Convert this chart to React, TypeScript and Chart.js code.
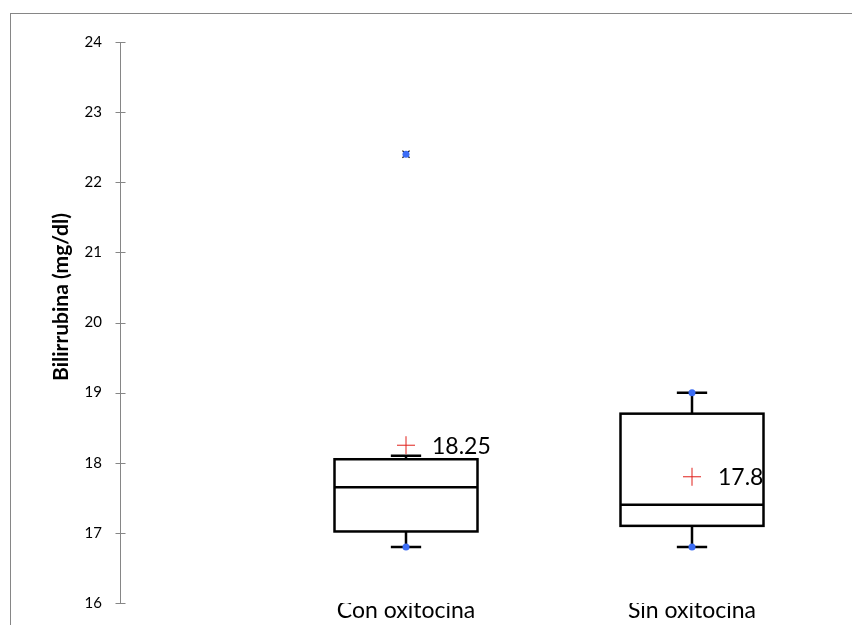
import React, { useEffect, useRef } from "react";
import { Chart, registerables } from "chart.js";

Chart.register(...registerables);

const categories = ["Con oxitocina", "Sin oxitocina"];
const q1 = [17.02, 17.1];
const medians = [17.65, 17.4];
const q3 = [18.05, 18.7];
const whiskerLow = [16.8, 16.8];
const whiskerHigh = [18.1, 19.0];
const means = [18.25, 17.8];
const meanLabels = ["18.25", "17.8"];
const outlierPoints = [{ x: 1, y: 22.4 }];
const whiskerDots = [
  { x: 1, y: 16.8 },
  { x: 2, y: 16.8 },
  { x: 2, y: 19.0 },
];
const yTickValues = [16, 17, 18, 19, 20, 21, 22, 23, 24];
const yTitle = "Bilirrubina (mg/dl)";

const BOX_HALF = 0.25;
const CAP_HALF = 0.053;
const FONT = "Lato, 'Open Sans', sans-serif";

const boxPlugin = {
  id: "boxPlugin",
  beforeDatasetsDraw(chart: any) {
    const { ctx } = chart;
    const xs = chart.scales.x;
    const ys = chart.scales.y;
    ctx.save();
    ctx.strokeStyle = "#000";
    ctx.lineWidth = 2.5;
    categories.forEach((_, i) => {
      const c = i + 1;
      const xl = xs.getPixelForValue(c - BOX_HALF);
      const xr = xs.getPixelForValue(c + BOX_HALF);
      const xc = xs.getPixelForValue(c);
      const cl = xs.getPixelForValue(c - CAP_HALF);
      const cr = xs.getPixelForValue(c + CAP_HALF);
      const yq1 = ys.getPixelForValue(q1[i]);
      const yq3 = ys.getPixelForValue(q3[i]);
      const ym = ys.getPixelForValue(medians[i]);
      const ylo = ys.getPixelForValue(whiskerLow[i]);
      const yhi = ys.getPixelForValue(whiskerHigh[i]);
      ctx.beginPath();
      ctx.moveTo(xc, yq1);
      ctx.lineTo(xc, ylo);
      ctx.moveTo(cl, ylo);
      ctx.lineTo(cr, ylo);
      ctx.moveTo(xc, yq3);
      ctx.lineTo(xc, yhi);
      ctx.moveTo(cl, yhi);
      ctx.lineTo(cr, yhi);
      ctx.stroke();
      ctx.fillStyle = "#fff";
      ctx.fillRect(xl, yq3, xr - xl, yq1 - yq3);
      ctx.strokeRect(xl, yq3, xr - xl, yq1 - yq3);
      ctx.beginPath();
      ctx.moveTo(xl, ym);
      ctx.lineTo(xr, ym);
      ctx.stroke();
    });
    ctx.restore();
  },
  afterDatasetsDraw(chart: any) {
    const { ctx } = chart;
    const xs = chart.scales.x;
    const ys = chart.scales.y;
    ctx.save();
    ctx.fillStyle = "#000";
    ctx.font = `23px ${FONT}`;
    ctx.textBaseline = "middle";
    ctx.textAlign = "left";
    categories.forEach((_, i) => {
      const x = xs.getPixelForValue(i + 1) + 26;
      const y = ys.getPixelForValue(means[i]) + 1;
      ctx.fillText(meanLabels[i], x, y);
    });
    // cross ticks on y axis
    ctx.strokeStyle = "#868686";
    ctx.lineWidth = 1;
    const ax = Math.round(ys.right) + 0.5;
    yTickValues.forEach((v) => {
      const y = Math.round(ys.getPixelForValue(v)) + 0.5;
      ctx.beginPath();
      ctx.moveTo(ax - 5, y);
      ctx.lineTo(ax + 5, y);
      ctx.stroke();
    });
    // y axis title
    ctx.save();
    ctx.translate(61, 297);
    ctx.rotate(-Math.PI / 2);
    ctx.font = `bold 21px ${FONT}`;
    ctx.textAlign = "center";
    ctx.textBaseline = "middle";
    ctx.fillText(yTitle, 0, 0);
    ctx.restore();
    ctx.restore();
  },
};

export default function App() {
  const ref = useRef<HTMLCanvasElement>(null);
  useEffect(() => {
    if (!ref.current) return;
    const chart = new Chart(ref.current, {
      type: "scatter",
      data: {
        datasets: [
          {
            label: "whiskerDots",
            data: whiskerDots,
            pointStyle: "circle",
            pointRadius: 3.5,
            backgroundColor: "#3b6cf4",
            borderColor: "#3b6cf4",
            borderWidth: 0,
          },
          {
            label: "outlierDot",
            data: outlierPoints,
            pointStyle: "circle",
            pointRadius: 3.5,
            backgroundColor: "#3b6cf4",
            borderColor: "#3b6cf4",
            borderWidth: 0,
          },
          {
            label: "outlierX",
            data: outlierPoints,
            pointStyle: "crossRot",
            pointRadius: 5,
            borderColor: "#000",
            borderWidth: 1.2,
          },
          {
            label: "means",
            data: means.map((m, i) => ({ x: i + 1, y: m })),
            pointStyle: "cross",
            pointRadius: 9,
            borderColor: "#e0201b",
            borderWidth: 1,
          },
        ],
      },
      options: {
        animation: false,
        responsive: false,
        maintainAspectRatio: false,
        devicePixelRatio: 1,
        events: [],
        layout: { padding: { top: 42, right: 17, bottom: 0, left: 0 } },
        plugins: {
          legend: { display: false },
          tooltip: { enabled: false },
        },
        scales: {
          x: {
            type: "linear",
            min: 0,
            max: 2.5,
            grid: { display: false },
            border: { display: false },
            afterBuildTicks: (s: any) => {
              s.ticks = categories.map((_, i) => ({ value: i + 1 }));
            },
            afterFit: (s: any) => {
              s.height = 22;
            },
            ticks: {
              padding: -14,
              color: "#000",
              font: { size: 23, family: FONT },
              maxRotation: 0,
              autoSkip: false,
              callback: (v: any) => categories[Number(v) - 1] ?? "",
            },
          },
          y: {
            type: "linear",
            min: 16,
            max: 24,
            grid: { display: false, drawTicks: false },
            border: { display: true, color: "#868686", width: 1 },
            afterBuildTicks: (s: any) => {
              s.ticks = yTickValues.map((v) => ({ value: v }));
            },
            afterFit: (s: any) => {
              s.width = 120;
            },
            title: { display: false },
            ticks: {
              padding: 18,
              color: "#000",
              font: { size: 15, family: FONT },
            },
          },
        },
      },
      plugins: [boxPlugin],
    });
    return () => chart.destroy();
  }, []);
  return (
    <div
      style={{
        position: "fixed",
        left: 0,
        top: 0,
        width: 852,
        height: 625,
        overflow: "hidden",
        background: "#fff",
      }}
    >
      <div
        style={{
          position: "absolute",
          left: 10,
          top: 13,
          width: 900,
          height: 700,
          border: "1px solid #868686",
        }}
      />
      <canvas
        ref={ref}
        width={852}
        height={630}
        style={{ position: "absolute", left: 0, top: 0, width: 852, height: 630 }}
      />
    </div>
  );
}
